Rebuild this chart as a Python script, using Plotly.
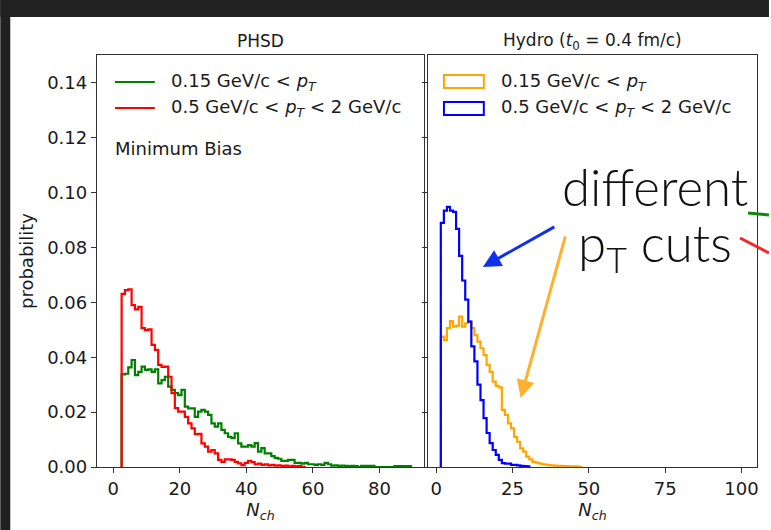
import numpy as np
import plotly.graph_objects as go

# ---------------- data ----------------
# PHSD (left panel), bins of width 1 in N_ch, first bin centre given
phsd_first_bin = 3
phsd_all_pt = [0.0338, 0.0340, 0.0363, 0.0390, 0.0335, 0.0347, 0.0366, 0.0354, 0.0356, 0.0347,
               0.0356, 0.0305, 0.0317, 0.0329, 0.0293, 0.0281, 0.0269, 0.0262, 0.0281, 0.0220,
               0.0214, 0.0214, 0.0183, 0.0202, 0.0208, 0.0202, 0.0190, 0.0159, 0.0147, 0.0159,
               0.0135, 0.0123, 0.0110, 0.0105, 0.0123, 0.0086, 0.0074, 0.0074, 0.0080, 0.0074,
               0.0087, 0.0056, 0.0069, 0.0050, 0.0050, 0.0040, 0.0033, 0.0030, 0.0022, 0.0022,
               0.0026, 0.0026, 0.0015, 0.0015, 0.0012, 0.0015, 0.0010, 0.0010, 0.0008, 0.0010,
               0.0008, 0.0015, 0.0010, 0.0005, 0.0006, 0.0004, 0.0005, 0.0004, 0.0003, 0.0004,
               0.0003, 0.0000, 0.0004, 0.0004, 0.0004, 0.0004, 0.0000, 0.0000, 0.0000, 0.0000,
               0.0000, 0.0000, 0.0003, 0.0003, 0.0003, 0.0003, 0.0003]
phsd_mid_pt = [0.0631, 0.0645, 0.0648, 0.0590, 0.0575, 0.0584, 0.0506, 0.0499, 0.0502, 0.0445,
               0.0427, 0.0372, 0.0365, 0.0366, 0.0329, 0.0269, 0.0215, 0.0202, 0.0202, 0.0183,
               0.0159, 0.0141, 0.0120, 0.0121, 0.0086, 0.0074, 0.0056, 0.0062, 0.0050, 0.0026,
               0.0019, 0.0028, 0.0028, 0.0026, 0.0019, 0.0013, 0.0007, 0.0015, 0.0022, 0.0018,
               0.0010, 0.0012, 0.0008, 0.0010, 0.0006, 0.0008, 0.0005, 0.0006, 0.0003, 0.0005,
               0.0002, 0.0004, 0.0002, 0.0003, 0.0001]

# Hydro (right panel)
hydro_first_bin = 2
hydro_all_pt = [0.0475, 0.0462, 0.0506, 0.0532, 0.0512, 0.0515, 0.0548, 0.0512, 0.0524, 0.0530,
                0.0506, 0.0481, 0.0457, 0.0433, 0.0408, 0.0372, 0.0347, 0.0311, 0.0296, 0.0290,
                0.0208, 0.0190, 0.0159, 0.0141, 0.0110, 0.0092, 0.0068, 0.0056, 0.0038, 0.0028,
                0.0019, 0.0016, 0.0013, 0.0010, 0.0009, 0.0007, 0.0006, 0.0005, 0.0004, 0.0004,
                0.0003, 0.0003, 0.0002, 0.0002, 0.0002, 0.0001]
hydro_mid_pt = [0.0890, 0.0935, 0.0948, 0.0935, 0.0930, 0.0868, 0.0770, 0.0680, 0.0610, 0.0530,
                0.0440, 0.0385, 0.0300, 0.0244, 0.0178, 0.0124, 0.0087, 0.0062, 0.0044, 0.0026,
                0.0014, 0.0012, 0.0012, 0.0008, 0.0008, 0.0006, 0.0004, 0.0003, 0.0002]

label_all = "0.15 GeV/c &lt; <i>p</i><sub><i>T</i></sub>"
label_mid = "0.5 GeV/c &lt; <i>p</i><sub><i>T</i></sub> &lt; 2 GeV/c"
panel_titles = ["PHSD", "Hydro (<i>t</i><sub>0</sub> = 0.4 fm/c)"]
y_ticks = [0.00, 0.02, 0.04, 0.06, 0.08, 0.10, 0.12, 0.14]
x_ticks_left = [0, 20, 40, 60, 80]
x_ticks_right = [0, 25, 50, 75, 100]

COL_GREEN = "#008000"
COL_RED = "#ff0000"
COL_ORANGE = "#ffa500"
COL_BLUE = "#0000ff"
FONT = "DejaVu Sans"
TXT = "#1a1a1a"
AX = "#333333"


def step_xy(first_center, values):
    vals = list(values)
    edges = first_center - 0.5 + np.arange(len(vals) + 1)
    x = [edges[0]] + list(edges[:-1]) + [edges[-1]]
    y = [0.0] + vals + [0.0]
    return x, y


fig = go.Figure()

for vals, col, name in [(phsd_all_pt, COL_GREEN, label_all), (phsd_mid_pt, COL_RED, label_mid)]:
    x, y = step_xy(phsd_first_bin, vals)
    fig.add_trace(go.Scatter(x=x, y=y, mode="lines", line=dict(color=col, width=2.2, shape="hv"),
                             name=name, showlegend=False, xaxis="x", yaxis="y"))

for vals, col, name in [(hydro_all_pt, COL_ORANGE, label_all), (hydro_mid_pt, COL_BLUE, label_mid)]:
    x, y = step_xy(hydro_first_bin, vals)
    fig.add_trace(go.Scatter(x=x, y=y, mode="lines", line=dict(color=col, width=2.2, shape="hv"),
                             name=name, showlegend=False, xaxis="x2", yaxis="y2"))

W, H = 771, 530
L, R, T, B = 97, 12, 55, 63
PW, PH = W - L - R, H - T - B


def px(xp):
    return (xp - L) / PW


def py(yp):
    return (H - B - yp) / PH


axis_common = dict(showline=True, mirror=True, linecolor=AX, linewidth=1.3, ticks="outside",
                   ticklen=5, tickwidth=1.2, tickcolor=AX, showgrid=False, zeroline=False,
                   tickfont=dict(family=FONT, size=18, color=TXT))

fig.update_layout(
    width=W, height=H,
    margin=dict(l=L, r=R, t=T, b=B),
    paper_bgcolor="white", plot_bgcolor="white",
    xaxis=dict(domain=[0, px(425)], range=[-4.9, 93.4], tickvals=x_ticks_left, anchor="y",
               title=dict(text="<i>N</i><sub><i>ch</i></sub>", font=dict(family=FONT, size=18, color=TXT), standoff=3),
               **axis_common),
    xaxis2=dict(domain=[px(429), 1], range=[-2.7, 105.1], tickvals=x_ticks_right, anchor="y2",
                title=dict(text="<i>N</i><sub><i>ch</i></sub>", font=dict(family=FONT, size=18, color=TXT), standoff=3),
                **axis_common),
    yaxis=dict(domain=[0, 1], range=[0, 0.1502], tickvals=y_ticks, tickformat=".2f", anchor="x",
               title=dict(text="probability", font=dict(family=FONT, size=18, color=TXT), standoff=8),
               **axis_common),
    yaxis2=dict(domain=[0, 1], range=[0, 0.1502], tickvals=y_ticks, showticklabels=False, anchor="x2",
                **axis_common),
)

shapes = []
# slide dark frame
shapes.append(dict(type="rect", xref="paper", yref="paper", x0=px(0), x1=px(10), y0=py(H), y1=py(0),
                   fillcolor="#212121", line=dict(width=0), layer="above"))
shapes.append(dict(type="rect", xref="paper", yref="paper", x0=px(0), x1=px(W), y0=py(17), y1=py(0),
                   fillcolor="#212121", line=dict(width=0), layer="above"))
# left legend handles
for yy, col in [(82, COL_GREEN), (108, COL_RED)]:
    shapes.append(dict(type="line", xref="paper", yref="paper", x0=px(115), x1=px(155), y0=py(yy), y1=py(yy),
                       line=dict(color=col, width=2.2)))
# right legend handles
for y0, y1, col in [(75, 88, COL_ORANGE), (102, 115, COL_BLUE)]:
    shapes.append(dict(type="rect", xref="paper", yref="paper", x0=px(445), x1=px(485), y0=py(y1), y1=py(y0),
                       line=dict(color=col, width=2), fillcolor="rgba(0,0,0,0)"))
# partial arrows at right edge
shapes.append(dict(type="line", xref="paper", yref="paper", x0=px(750), x1=px(771), y0=py(213), y1=py(215),
                   line=dict(color="#0b8a0b", width=3)))
shapes.append(dict(type="line", xref="paper", yref="paper", x0=px(742), x1=px(771), y0=py(238), y1=py(253),
                   line=dict(color="#ff2222", width=3)))

ann = []
fnt = dict(family=FONT, size=18, color=TXT)
ann.append(dict(text=panel_titles[0], x=px((97 + 425) / 2), y=py(41), xref="paper", yref="paper",
                showarrow=False, font=dict(family=FONT, size=17, color=TXT), xanchor="center", yanchor="middle"))
ann.append(dict(text=panel_titles[1], x=px((429 + 759) / 2), y=py(41), xref="paper", yref="paper",
                showarrow=False, font=dict(family=FONT, size=17, color=TXT), xanchor="center", yanchor="middle"))
for yy, txt in [(82, label_all), (108, label_mid)]:
    ann.append(dict(text=txt, x=px(169), y=py(yy), xref="paper", yref="paper", showarrow=False,
                    font=fnt, xanchor="left", yanchor="middle"))
    ann.append(dict(text=txt, x=px(500), y=py(yy), xref="paper", yref="paper", showarrow=False,
                    font=fnt, xanchor="left", yanchor="middle"))
ann.append(dict(text="Minimum Bias", x=px(113), y=py(148), xref="paper", yref="paper", showarrow=False,
                font=fnt, xanchor="left", yanchor="middle"))
# slide overlay text
big = dict(family="Lato", size=51, color="#111111", weight=300)
ann.append(dict(text="different", x=px(657), y=py(186), xref="paper", yref="paper", showarrow=False,
                font=big, xanchor="center", yanchor="middle"))
ann.append(dict(text="p<sub>T</sub> cuts", x=px(657), y=py(246), xref="paper", yref="paper", showarrow=False,
                font=big, xanchor="center", yanchor="middle"))
# arrows
ann.append(dict(text="", x=px(484), y=py(267), xref="paper", yref="paper", showarrow=True,
                ax=73, ay=-41, arrowhead=2, arrowsize=1.2, arrowwidth=3, arrowcolor="#1030f0"))
ann.append(dict(text="", x=px(522), y=py(398), xref="paper", yref="paper", showarrow=True,
                ax=45, ay=-163, arrowhead=2, arrowsize=1.2, arrowwidth=3, arrowcolor="#ffb02e"))

fig.update_layout(shapes=shapes, annotations=ann)
fig.write_html("out.html")
